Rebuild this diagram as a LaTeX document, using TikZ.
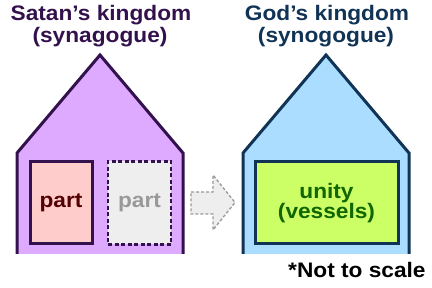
\documentclass[tikz,border=0pt]{standalone}
\usepackage{fontspec}
\setmainfont{Liberation Sans}[FakeStretch=1.08]
\definecolor{satanline}{HTML}{33114D}
\definecolor{satanfill}{HTML}{DDAAFF}
\definecolor{godline}{HTML}{113355}
\definecolor{godfill}{HTML}{AADDFF}
\definecolor{partfill}{HTML}{FFCCCC}
\definecolor{parttext}{HTML}{550000}
\definecolor{ghostfill}{HTML}{EEEEEE}
\definecolor{ghosttext}{HTML}{999999}
\definecolor{unityfill}{HTML}{CCFF66}
\definecolor{unitytext}{HTML}{116600}
\tikzset{
  lbl/.style={font=\fontsize{21}{23}\selectfont\bfseries, align=center, inner sep=0pt},
  housefill/.style={line width=3pt, line join=miter},
  partbox/.style={draw=satanline, line width=3pt, fill=partfill, text=parttext, minimum width=62pt, minimum height=82pt, inner sep=0pt, font=\fontsize{21}{23}\selectfont\bfseries},
  ghostbox/.style={preaction={draw=white, line width=2.6pt}, draw=satanline, line width=2.6pt, dash pattern=on 4pt off 2.5pt, fill=ghostfill, text=ghosttext, minimum width=63pt, minimum height=83pt, inner sep=0pt, font=\fontsize{21}{23}\selectfont\bfseries},
  unitybox/.style={draw=godline, line width=3pt, fill=unityfill, text=unitytext, minimum width=143pt, minimum height=82pt, inner sep=0pt, align=center, font=\fontsize{21}{23}\selectfont\bfseries},
  ghostarrow/.style={draw=ghosttext, fill=ghostfill, line width=1.4pt, dash pattern=on 3pt off 2pt, line join=miter},
}
\begin{document}
\begin{tikzpicture}[x=1pt,y=-1pt]
\useasboundingbox (0,0) rectangle (432,288);
% left house
\fill[satanfill] (17,254) -- (17,153) -- (100,55) -- (183,153) -- (183,254) -- cycle;
\draw[satanline, housefill] (17,254) -- (17,153) -- (100,55) -- (183,153) -- (183,254);
% right house
\fill[godfill] (243,254) -- (243,153) -- (326,55) -- (409,153) -- (409,254) -- cycle;
\draw[godline, housefill] (243,254) -- (243,153) -- (326,55) -- (409,153) -- (409,254);
% titles
\node[lbl, text=satanline, anchor=base] (st1) at (101,21) {Satan’s kingdom};
\node[lbl, text=satanline, anchor=base] (st2) at (100,43) {(synagogue)};
\node[lbl, text=godline, anchor=base] (gt1) at (327,21) {God’s kingdom};
\node[lbl, text=godline, anchor=base] (gt2) at (326,43) {(synogogue)};
% inner boxes
\node[partbox] (p1) at (61,203) {part};
\node[ghostbox] (p2) at (139.5,203) {part};
\node[unitybox] (u) at (326.5,203) {unity\\[-3pt](vessels)};
% arrow
\draw[ghostarrow] (191,192) -- (213,192) -- (213,175) -- (235,202.5) -- (213,230) -- (213,214) -- (191,214) -- cycle;
% note
\node[font=\fontsize{21}{23}\selectfont\bfseries, anchor=base west, inner sep=0pt] (note) at (288,278) {*Not to scale};
\end{tikzpicture}
\end{document}
